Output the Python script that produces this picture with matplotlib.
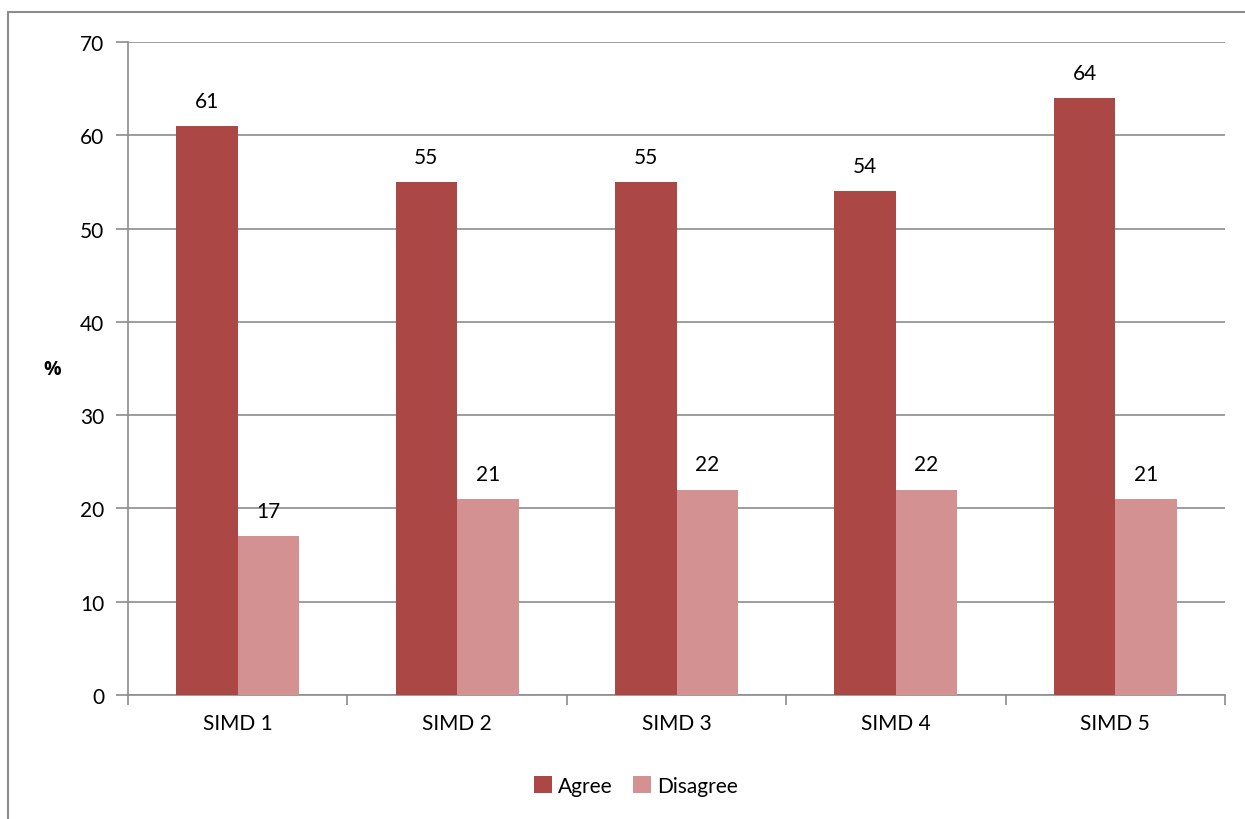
import numpy as np
import matplotlib.pyplot as plt
from matplotlib.patches import Rectangle

categories = ["SIMD 1", "SIMD 2", "SIMD 3", "SIMD 4", "SIMD 5"]
agree = [61, 55, 55, 54, 64]
disagree = [17, 21, 22, 22, 21]

plt.rcParams["font.family"] = ["Lato", "DejaVu Sans"]
FS = 15

fig = plt.figure(figsize=(12.45, 8.2), dpi=100)
W, H = 1245, 820
ax = fig.add_axes([128 / W, 1 - 696 / H, (1225 - 128) / W, (696 - 43) / H])

# outer chart border
fig.patches.append(Rectangle((8 / W, -0.1), 1.2, 1 - 13 / H + 0.1,
                             transform=fig.transFigure, fill=False,
                             edgecolor="#8c8c8c", linewidth=1.5))

x = np.arange(len(categories))
bw = 0.28
b1 = ax.bar(x - bw / 2, agree, bw, color="#AB4744", label="Agree", zorder=3)
b2 = ax.bar(x + bw / 2, disagree, bw, color="#D39291", label="Disagree", zorder=3)

for bars in (b1, b2):
    for r in bars:
        ax.annotate(f"{r.get_height():.0f}", (r.get_x() + r.get_width() / 2, r.get_height()),
                    xytext=(0, 11), textcoords="offset points", ha="center", va="bottom",
                    fontsize=FS)

ax.set_xlim(-0.5, len(categories) - 0.5)
ax.set_ylim(0, 70)
ax.set_yticks(range(0, 71, 10))
ax.grid(axis="y", color="#8c8c8c", linewidth=1.2, zorder=0)
ax.set_axisbelow(True)

ax.set_xticks(x)
ax.set_xticklabels(categories)
ax.set_xticks(np.arange(-0.5, len(categories)), minor=True)
ax.tick_params(axis="x", which="major", length=0, pad=13, labelsize=FS)
ax.tick_params(axis="x", which="minor", length=7, color="#8c8c8c", width=1.2)
ax.tick_params(axis="y", length=9, color="#8c8c8c", width=1.2, pad=8, labelsize=FS)

for s in ("top", "right"):
    ax.spines[s].set_visible(False)
for s in ("left", "bottom"):
    ax.spines[s].set_color("#8c8c8c")
    ax.spines[s].set_linewidth(1.2)

fig.text(52 / W, 1 - 370 / H, "%", fontsize=FS - 1, fontweight="bold",
         family=["Open Sans", "DejaVu Sans"], ha="center", va="center")

fig.legend(handles=[b1, b2], loc="center", bbox_to_anchor=(636 / W, 1 - 787 / H),
           ncol=2, frameon=False, fontsize=FS, handlelength=0.85, handleheight=0.85,
           handletextpad=0.3, columnspacing=1.0)

fig.savefig("out.png", dpi=100)
